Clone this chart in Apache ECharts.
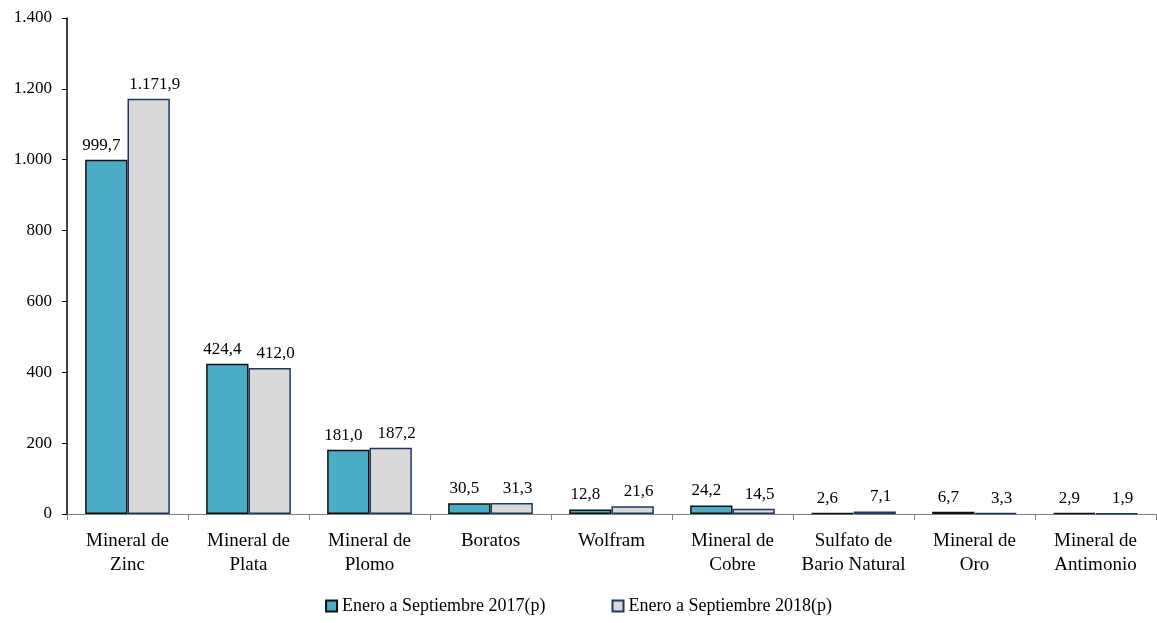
<!DOCTYPE html>
<html><head><meta charset="utf-8">
<script src="https://cdn.jsdelivr.net/npm/echarts@6/dist/echarts.min.js"></script>
<style>html,body{margin:0;padding:0;background:#fff}#c{width:1157px;height:623px}</style>
</head><body><div id="c"></div>
<script>
const categories = ['Mineral de\nZinc','Mineral de\nPlata','Mineral de\nPlomo','Boratos','Wolfram','Mineral de\nCobre','Sulfato de\nBario Natural','Mineral de\nOro','Mineral de\nAntimonio'];
const seriesNames = ['Enero a Septiembre 2017(p)','Enero a Septiembre 2018(p)'];
const values2017 = [999.7, 424.4, 181.0, 30.5, 12.8, 24.2, 2.6, 6.7, 2.9];
const values2018 = [1171.9, 412.0, 187.2, 31.3, 21.6, 14.5, 7.1, 3.3, 1.9];
const yTicks = [0, 200, 400, 600, 800, 1000, 1200, 1400];

const font = 'Liberation Serif';
function fmtNum(v, dec) {
  const s = v.toFixed(dec);
  const [i, d] = s.split('.');
  const ii = i.replace(/\B(?=(\d{3})+(?!\d))/g, '.');
  return d ? ii + ',' + d : ii;
}
const chart = echarts.init(document.getElementById('c'));
chart.setOption({
  animation: false,
  textStyle: { fontFamily: font },
  grid: { left: 67, right: 1, top: 18, bottom: 109, containLabel: false },
  legend: {
    bottom: 3, left: 'center', itemWidth: 11, itemHeight: 11, itemGap: 66,
    icon: 'rect',
    textStyle: { fontFamily: font, fontSize: 18, color: '#000' },
    data: seriesNames
  },
  xAxis: {
    type: 'category', data: categories,
    axisLine: { lineStyle: { color: '#808080', width: 1 } },
    axisTick: { show: true, length: 6, lineStyle: { color: '#808080' } },
    axisLabel: { color: '#000', fontSize: 19, fontFamily: font, lineHeight: 24, margin: 15, interval: 0 }
  },
  yAxis: {
    type: 'value', min: yTicks[0], max: yTicks[yTicks.length - 1], interval: 200,
    splitLine: { show: false },
    axisLine: { show: true, lineStyle: { color: '#000', width: 1.5 } },
    axisTick: { show: true, length: 5, lineStyle: { color: '#000' } },
    axisLabel: { color: '#000', fontSize: 17, fontFamily: font, margin: 15, formatter: v => fmtNum(v, 0) }
  },
  series: [
    {
      name: seriesNames[0], type: 'bar', data: values2017,
      barGap: '0%', barCategoryGap: '30%',
      itemStyle: { color: '#4BACC6', borderColor: '#111', borderWidth: 1.5 },
      label: { show: true, position: 'top', distance: 6, offset: [-5, 0], color: '#000', fontSize: 17, fontFamily: font, formatter: p => fmtNum(p.value, 1) }
    },
    {
      name: seriesNames[1], type: 'bar', data: values2018,
      itemStyle: { color: '#D9D9D9', borderColor: '#1F3864', borderWidth: 1.5 },
      label: { show: true, position: 'top', distance: 6, offset: [6, 0], color: '#000', fontSize: 17, fontFamily: font, formatter: p => fmtNum(p.value, 1) }
    }
  ]
});
</script></body></html>
